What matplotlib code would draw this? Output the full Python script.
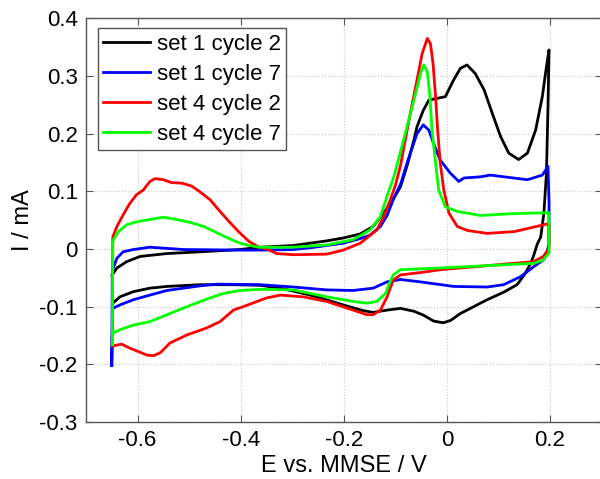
import numpy as np
import matplotlib
matplotlib.use('Agg')
import matplotlib.pyplot as plt

# --- traced data: potential (V vs MMSE) and current (mA), one closed CV loop per curve ---
e_s1c2 = [-0.649, -0.640, -0.621, -0.595, -0.543, -0.479, -0.401, -0.362, -0.298, -0.265,
          -0.233, -0.201, -0.168, -0.143, -0.123, -0.103, -0.090, -0.077, -0.064, -0.058,
          -0.046, -0.035, -0.019, -0.003, 0.013, 0.026, 0.039, 0.055, 0.072, 0.088,
          0.104, 0.120, 0.139, 0.156, 0.172, 0.185, 0.193, 0.198,
          0.196, 0.193, 0.188, 0.182, 0.175, 0.168, 0.162, 0.150, 0.136, 0.110,
          0.078, 0.052, 0.026, 0.007, -0.007, -0.026, -0.045, -0.064, -0.090, -0.116,
          -0.143, -0.162, -0.182, -0.201, -0.265, -0.323, -0.362, -0.414, -0.479, -0.543,
          -0.576, -0.608, -0.634, -0.648, -0.649]
i_s1c2 = [-0.045, -0.033, -0.022, -0.013, -0.008, -0.005, -0.001, 0.003, 0.006, 0.010,
          0.014, 0.019, 0.026, 0.039, 0.062, 0.088, 0.108, 0.145, 0.189, 0.212,
          0.240, 0.258, 0.261, 0.264, 0.293, 0.313, 0.319, 0.304, 0.276, 0.235,
          0.195, 0.166, 0.155, 0.166, 0.206, 0.264, 0.316, 0.345,
          0.247, 0.131, 0.062, 0.021, 0.008, -0.012, -0.026, -0.045, -0.062, -0.075,
          -0.088, -0.100, -0.112, -0.124, -0.128, -0.125, -0.115, -0.108, -0.103, -0.106,
          -0.110, -0.107, -0.102, -0.097, -0.080, -0.068, -0.063, -0.062, -0.062, -0.065,
          -0.068, -0.074, -0.083, -0.094, -0.045]

e_s1c7 = [-0.650, -0.649, -0.647, -0.640, -0.628, -0.608, -0.576, -0.511, -0.401, -0.362,
          -0.298, -0.265, -0.201, -0.168, -0.149, -0.129, -0.116, -0.103, -0.090, -0.077,
          -0.058, -0.046, -0.035, -0.026, -0.013, 0.007, 0.023, 0.033, 0.065, 0.084,
          0.129, 0.156, 0.185, 0.196, 0.198, 0.198, 0.193, 0.187, 0.168, 0.143,
          0.110, 0.078, 0.013, -0.052, -0.090, -0.116, -0.143, -0.182, -0.233, -0.298,
          -0.362, -0.446, -0.479, -0.543, -0.576, -0.608, -0.634, -0.648, -0.650]
i_s1c7 = [-0.202, -0.040, -0.033, -0.016, -0.005, -0.001, 0.003, -0.001, -0.002, -0.002,
          -0.001, 0.002, 0.010, 0.018, 0.024, 0.039, 0.058, 0.088, 0.112, 0.150,
          0.200, 0.215, 0.206, 0.183, 0.154, 0.131, 0.117, 0.123, 0.125, 0.128,
          0.123, 0.120, 0.128, 0.143, 0.080, 0.010, -0.010, -0.019, -0.031, -0.048,
          -0.062, -0.066, -0.065, -0.057, -0.053, -0.057, -0.068, -0.072, -0.071, -0.066,
          -0.062, -0.061, -0.064, -0.072, -0.080, -0.088, -0.097, -0.103, -0.202]

e_s4c2 = [-0.649, -0.648, -0.640, -0.628, -0.615, -0.602, -0.589, -0.576, -0.566, -0.550,
          -0.534, -0.514, -0.495, -0.479, -0.459, -0.440, -0.420, -0.404, -0.384, -0.364,
          -0.350, -0.330, -0.298, -0.233, -0.201, -0.168, -0.136, -0.123, -0.110, -0.100,
          -0.090, -0.071, -0.058, -0.048, -0.038, -0.032, -0.027, -0.022, -0.018, -0.013,
          -0.006, 0.004, 0.020, 0.040, 0.078, 0.130, 0.169, 0.193, 0.198,
          0.198, 0.187, 0.168, 0.078, -0.013, -0.052, -0.090, -0.104, -0.110, -0.116,
          -0.129, -0.143, -0.155, -0.182, -0.233, -0.279, -0.323, -0.350, -0.362, -0.395,
          -0.414, -0.440, -0.466, -0.504, -0.537, -0.556, -0.569, -0.582, -0.598, -0.615,
          -0.631, -0.647, -0.649]
i_s4c2 = [-0.168, 0.021, 0.039, 0.059, 0.079, 0.094, 0.102, 0.117, 0.122, 0.120,
          0.115, 0.114, 0.109, 0.099, 0.085, 0.065, 0.045, 0.030, 0.013, 0.003,
          0.000, -0.008, -0.010, -0.009, -0.002, 0.010, 0.033, 0.055, 0.085, 0.110,
          0.145, 0.235, 0.293, 0.339, 0.365, 0.356, 0.322, 0.264, 0.206, 0.149,
          0.102, 0.062, 0.039, 0.032, 0.027, 0.030, 0.038, 0.043, 0.042,
          0.001, -0.013, -0.022, -0.029, -0.036, -0.041, -0.045, -0.054, -0.068, -0.083,
          -0.106, -0.114, -0.114, -0.106, -0.091, -0.083, -0.080, -0.085, -0.089, -0.100,
          -0.106, -0.126, -0.137, -0.149, -0.163, -0.180, -0.185, -0.184, -0.178, -0.172,
          -0.165, -0.168, -0.168]

e_s4c7 = [-0.649, -0.648, -0.647, -0.637, -0.621, -0.602, -0.576, -0.550, -0.524, -0.498,
          -0.472, -0.446, -0.420, -0.401, -0.384, -0.364, -0.298, -0.233, -0.182, -0.149,
          -0.129, -0.113, -0.103, -0.084, -0.064, -0.051, -0.045, -0.038, -0.033, -0.029,
          -0.022, -0.016, -0.003, 0.020, 0.065, 0.123, 0.198,
          0.198, 0.187, 0.168, 0.078, -0.013, -0.090, -0.104, -0.112, -0.119, -0.136,
          -0.155, -0.182, -0.233, -0.298, -0.362, -0.401, -0.433, -0.466, -0.504, -0.543,
          -0.576, -0.608, -0.634, -0.648, -0.649]
i_s4c7 = [-0.166, 0.012, 0.016, 0.030, 0.042, 0.047, 0.051, 0.055, 0.051, 0.046,
          0.039, 0.028, 0.017, 0.010, 0.006, 0.003, 0.003, 0.007, 0.016, 0.033,
          0.056, 0.100, 0.125, 0.189, 0.258, 0.305, 0.319, 0.307, 0.264, 0.206,
          0.149, 0.102, 0.073, 0.065, 0.058, 0.061, 0.063,
          -0.007, -0.019, -0.025, -0.029, -0.033, -0.036, -0.045, -0.060, -0.077, -0.091,
          -0.094, -0.091, -0.083, -0.071, -0.070, -0.072, -0.077, -0.087, -0.100, -0.114,
          -0.126, -0.132, -0.140, -0.146, -0.166]

labels = ['set 1 cycle 2', 'set 1 cycle 7', 'set 4 cycle 2', 'set 4 cycle 7']
colors = ['#000000', '#0000ff', '#ff0000', '#00ff00']
x_ticks = [-0.6, -0.4, -0.2, 0, 0.2]
x_tick_labels = ['-0.6', '-0.4', '-0.2', '0', '0.2']
y_ticks = [-0.3, -0.2, -0.1, 0, 0.1, 0.2, 0.3, 0.4]
y_tick_labels = ['-0.3', '-0.2', '-0.1', '0', '0.1', '0.2', '0.3', '0.4']

plt.rcParams['font.family'] = ['Liberation Sans', 'DejaVu Sans']

fig = plt.figure(figsize=(6, 4.79), dpi=100)
ax = fig.add_axes([0.1433, 0.119, 0.8594, 0.843])

curves = [(e_s1c2, i_s1c2), (e_s1c7, i_s1c7), (e_s4c2, i_s4c2), (e_s4c7, i_s4c7)]
for (e, i), col, lab in zip(curves, colors, labels):
    ax.plot(e, i, color=col, linewidth=2.0, label=lab, solid_joinstyle='round')

ax.set_xlim(-0.7, 0.3)
ax.set_ylim(-0.3, 0.4)
ax.set_xticks(x_ticks)
ax.set_xticklabels(x_tick_labels)
ax.set_yticks(y_ticks)
ax.set_yticklabels(y_tick_labels)
ax.tick_params(direction='in', top=True, right=True, labelsize=16, length=5,
               color='#555555', pad=6)
ax.grid(True, linestyle=':', color='#c8c8c8', linewidth=0.8)
for sp in ax.spines.values():
    sp.set_color('#555555')
    sp.set_linewidth(1.0)

ax.set_xlabel('E vs. MMSE / V', fontsize=17, labelpad=3)
ax.set_ylabel('I / mA', fontsize=17, labelpad=4)

leg = ax.legend(loc='upper left', bbox_to_anchor=(0.023, 0.975), fontsize=16,
                frameon=True, fancybox=False, framealpha=1, edgecolor='#555555',
                handlelength=2.1, handletextpad=0.3, labelspacing=0.4,
                borderpad=0.25, borderaxespad=0)
leg.get_frame().set_linewidth(1.0)

fig.savefig('out.png', dpi=100)
